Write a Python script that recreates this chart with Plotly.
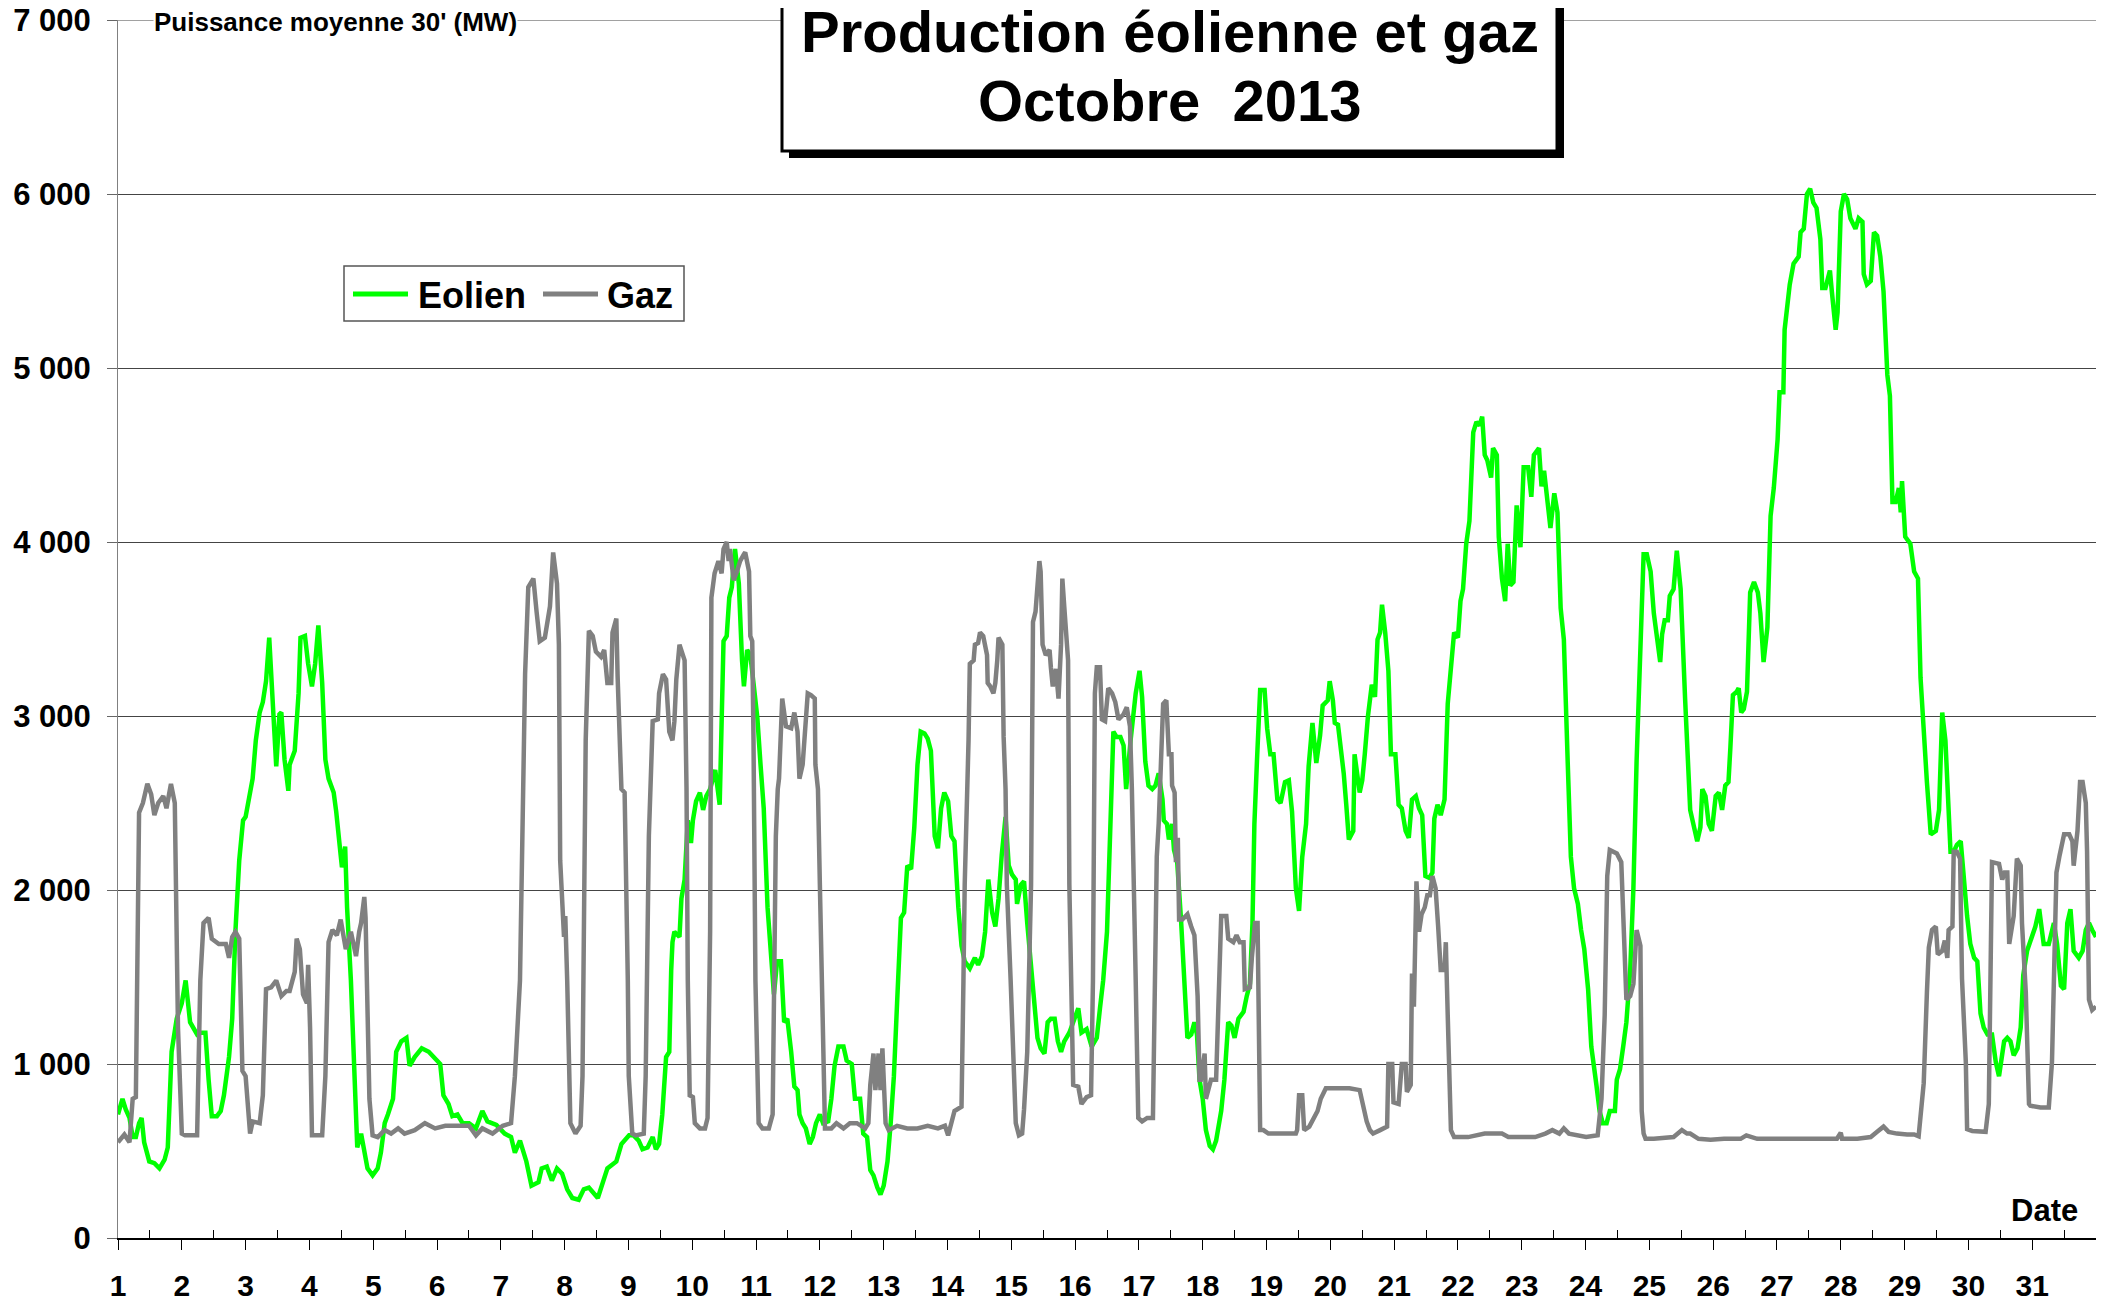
import plotly.graph_objects as go

# Half-hourly averages: fractional day of October 2013 and MW.
EOLIEN_DAY = [
    1.00, 1.07, 1.12, 1.18, 1.23, 1.28, 1.33, 1.37, 1.41, 1.49, 1.57, 1.65, 1.73, 1.78, 1.84, 1.92,
    2.00, 2.06, 2.13, 2.18, 2.24, 2.29, 2.37, 2.42, 2.47, 2.55, 2.61, 2.66, 2.74, 2.79, 2.84, 2.90, 2.96,
    3.00, 3.06, 3.11, 3.16, 3.22, 3.27, 3.32, 3.37, 3.43, 3.48, 3.53, 3.56, 3.61, 3.67, 3.69, 3.77, 3.83, 3.86, 3.93, 3.98,
    4.04, 4.09, 4.14, 4.20, 4.25, 4.30, 4.38, 4.42, 4.49, 4.51, 4.56, 4.59, 4.65, 4.70, 4.75, 4.81, 4.86, 4.91, 4.99,
    5.07, 5.12, 5.18, 5.23, 5.31, 5.36, 5.44, 5.52, 5.57, 5.65, 5.76, 5.87, 5.97,
    6.05, 6.10, 6.18, 6.24, 6.32, 6.40, 6.50, 6.61, 6.71, 6.79, 6.93,
    7.06, 7.16, 7.22, 7.30, 7.40, 7.48, 7.59, 7.64, 7.72, 7.80, 7.88, 7.96,
    8.04, 8.12, 8.22, 8.30, 8.38, 8.52, 8.67, 8.81, 8.89, 8.97,
    9.01, 9.08, 9.16, 9.22, 9.30, 9.38, 9.43, 9.48, 9.53, 9.59, 9.64, 9.67, 9.69, 9.72, 9.80, 9.83, 9.88, 9.93, 9.98,
    10.01, 10.06, 10.12, 10.17, 10.22, 10.28, 10.36, 10.43, 10.49, 10.54, 10.58, 10.62, 10.67, 10.73, 10.78, 10.81,
    10.86, 10.91, 10.96,
    11.02, 11.07, 11.12, 11.18, 11.23, 11.28, 11.33, 11.39, 11.44, 11.49, 11.55, 11.60, 11.65, 11.68, 11.73, 11.78,
    11.84, 11.89, 11.94,
    12.00, 12.05, 12.13, 12.18, 12.23, 12.29, 12.37, 12.42, 12.50, 12.55, 12.63, 12.68, 12.74, 12.79, 12.84, 12.90, 12.95,
    13.00, 13.06, 13.11, 13.16, 13.21, 13.27, 13.32, 13.37, 13.43, 13.48, 13.53, 13.58, 13.64, 13.69, 13.74, 13.80,
    13.85, 13.90, 13.95,
    14.01, 14.06, 14.11, 14.17, 14.22, 14.27, 14.35, 14.43, 14.48, 14.54, 14.59, 14.64, 14.70, 14.75, 14.80, 14.85,
    14.91, 14.96,
    15.01, 15.07, 15.09, 15.15, 15.20, 15.25, 15.30, 15.36, 15.41, 15.46, 15.52, 15.57, 15.62, 15.68, 15.73, 15.78,
    15.83, 15.91, 15.99,
    16.05, 16.10, 16.18, 16.26, 16.34, 16.39, 16.44, 16.50, 16.55, 16.60, 16.65, 16.71, 16.76, 16.80, 16.87, 16.95,
    17.01, 17.05, 17.10, 17.15, 17.21, 17.26, 17.31, 17.37, 17.39, 17.44, 17.47, 17.52, 17.55, 17.60, 17.66, 17.71,
    17.76, 17.82, 17.87, 17.91, 17.95,
    18.00, 18.05, 18.11, 18.16, 18.21, 18.29, 18.34, 18.40, 18.45, 18.50, 18.56, 18.64, 18.69, 18.74, 18.78, 18.81,
    18.85, 18.90, 18.97,
    19.01, 19.06, 19.11, 19.17, 19.22, 19.29, 19.35, 19.40, 19.46, 19.51, 19.56, 19.62, 19.66, 19.72, 19.78, 19.84,
    19.88, 19.96, 19.99,
    20.04, 20.07, 20.12, 20.17, 20.21, 20.25, 20.29, 20.36, 20.38, 20.46, 20.50, 20.54, 20.59, 20.65, 20.70, 20.74,
    20.78, 20.81, 20.86, 20.91, 20.95,
    21.02, 21.07, 21.12, 21.18, 21.23, 21.28, 21.34, 21.39, 21.44, 21.49, 21.55, 21.60, 21.63, 21.68, 21.73, 21.79,
    21.84, 21.89, 21.94,
    22.00, 22.04, 22.08, 22.13, 22.18, 22.24, 22.29, 22.34, 22.38, 22.42, 22.46, 22.52, 22.55, 22.61, 22.64, 22.69,
    22.74, 22.78, 22.82, 22.87, 22.92, 22.98,
    23.03, 23.10, 23.15, 23.19, 23.27, 23.31, 23.35, 23.40, 23.45, 23.51, 23.56, 23.61, 23.66, 23.72, 23.77, 23.82,
    23.88, 23.93, 23.98,
    24.04, 24.09, 24.17, 24.22, 24.27, 24.33, 24.38, 24.46, 24.49, 24.54, 24.59, 24.64, 24.70, 24.75, 24.80, 24.86,
    24.91, 24.96,
    25.02, 25.07, 25.12, 25.17, 25.20, 25.24, 25.29, 25.32, 25.38, 25.43, 25.49, 25.51, 25.56, 25.64, 25.70, 25.75,
    25.80, 25.83, 25.88, 25.93, 25.98,
    26.04, 26.09, 26.14, 26.19, 26.24, 26.27, 26.31, 26.37, 26.40, 26.44, 26.48, 26.53, 26.56, 26.58, 26.64, 26.70,
    26.74, 26.79, 26.85, 26.87, 26.90, 26.95, 26.98,
    27.01, 27.04, 27.10, 27.12, 27.16, 27.20, 27.26, 27.34, 27.37, 27.42, 27.47, 27.52, 27.57, 27.62, 27.68, 27.71,
    27.76, 27.83, 27.86, 27.92, 27.95,
    28.00, 28.05, 28.10, 28.15, 28.23, 28.28, 28.34, 28.36, 28.41, 28.47, 28.52, 28.57, 28.62, 28.67, 28.73, 28.77,
    28.81, 28.86, 28.91, 28.94, 28.96,
    29.01, 29.09, 29.15, 29.21, 29.25, 29.30, 29.35, 29.41, 29.49, 29.54, 29.59, 29.64, 29.69, 29.72, 29.77, 29.82,
    29.88, 29.93, 29.98,
    30.03, 30.09, 30.14, 30.19, 30.24, 30.30, 30.37, 30.43, 30.48, 30.56, 30.61, 30.66, 30.71, 30.77, 30.82, 30.86,
    30.92,
    31.00, 31.05, 31.11, 31.18, 31.26, 31.34, 31.39, 31.45, 31.50, 31.55, 31.60, 31.65, 31.73, 31.79, 31.84, 31.89,
    31.94, 32.00,
]
EOLIEN_MW = [
    710, 800, 740, 690, 580, 580, 660, 690, 550, 440, 430, 400, 450, 520, 1070, 1260,
    1350, 1480, 1240, 1210, 1170, 1180, 1180, 910, 700, 700, 730, 820, 1040, 1260, 1760, 2170, 2400,
    2420, 2530, 2640, 2860, 3020, 3080, 3200, 3450, 3050, 2710, 3010, 3020, 2750, 2570, 2720, 2800, 3130, 3450, 3460, 3300,
    3170, 3300, 3520, 3190, 2750, 2640, 2560, 2450, 2200, 2130, 2250, 1900, 1480, 930, 520, 600, 480, 400, 360,
    400, 490, 660, 710, 800, 1070, 1130, 1150, 990, 1040, 1090, 1070, 1030,
    1000, 820, 770, 700, 710, 660, 660, 630, 730, 670, 650,
    600, 580, 490, 560, 440, 300, 320, 400, 410, 330, 400, 370,
    280, 230, 220, 280, 290, 230, 400, 440, 540, 580,
    590, 590, 560, 510, 520, 580, 510, 540, 710, 1040, 1070, 1540, 1700, 1760, 1730, 1950, 2060, 2400, 2270,
    2400, 2510, 2560, 2460, 2540, 2580, 2690, 2490, 3430, 3460, 3680, 3740, 3960, 3760, 3320, 3170,
    3380, 3350, 3190,
    2990, 2720, 2470, 1900, 1650, 1400, 1590, 1590, 1240, 1260, 1070, 870, 850, 710, 660, 630,
    540, 580, 660,
    710, 660, 670, 800, 990, 1100, 1100, 1020, 1000, 800, 800, 600, 580, 390, 360, 290, 250,
    300, 440, 660, 930, 1350, 1840, 1870, 2140, 2120, 2360, 2720, 2910, 2900, 2870, 2800, 2310,
    2240, 2470, 2560,
    2510, 2310, 2280, 1900, 1680, 1590, 1550, 1610, 1570, 1620, 1760, 2060, 1870, 1790, 1950, 2200,
    2420, 2140,
    2090, 2060, 1920, 2030, 2050, 1810, 1590, 1350, 1150, 1090, 1060, 1240, 1260, 1260, 1130, 1070,
    1130, 1180, 1260,
    1320, 1180, 1200, 1100, 1150, 1320, 1480, 1760, 2310, 2910, 2880, 2880, 2830, 2580, 2860, 3130,
    3260, 3110, 2740, 2600, 2580, 2600, 2670, 2520, 2400, 2380, 2290, 2380, 2230, 2160, 1830, 1460,
    1150, 1170, 1240, 1170, 910,
    800, 620, 530, 510, 560, 730, 910, 1240, 1220, 1150, 1260, 1300, 1390, 1460, 1810, 2380,
    2740, 3150, 3150,
    2930, 2780, 2780, 2520, 2500, 2620, 2630, 2450, 2010, 1880, 2190, 2380, 2710, 2960, 2730, 2890,
    3060, 3090, 3200,
    3090, 2960, 2950, 2820, 2670, 2490, 2290, 2340, 2780, 2560, 2630, 2780, 3000, 3180, 3110, 3440,
    3480, 3640, 3480, 3260, 2780,
    2780, 2490, 2470, 2340, 2300, 2520, 2540, 2470, 2430, 2080, 2070, 2100, 2410, 2490, 2430, 2520,
    3070, 3260, 3480,
    3450, 3660, 3730, 3990, 4120, 4630, 4690, 4670, 4720, 4500, 4470, 4370, 4540, 4500, 4030, 3790,
    3660, 3990, 3750, 3770, 4210, 3970,
    4430, 4430, 4260, 4500, 4540, 4320, 4410, 4210, 4080, 4280, 4170, 3620, 3440, 2740, 2190, 2010,
    1920, 1770, 1660,
    1430, 1100, 880, 730, 660, 660, 730, 730, 910, 970, 1100, 1240, 1540, 2010, 2740, 3480,
    3930, 3930,
    3830, 3590, 3470, 3310, 3470, 3550, 3550, 3690, 3730, 3950, 3730, 3510, 3100, 2460, 2360, 2280,
    2360, 2580, 2540, 2380, 2340,
    2540, 2560, 2460, 2600, 2620, 2820, 3120, 3140, 3160, 3020, 3040, 3140, 3590, 3710, 3770, 3710,
    3590, 3310, 3510, 3870, 4150, 4310, 4470,
    4590, 4860, 4860, 5220, 5380, 5480, 5600, 5640, 5780, 5800, 6000, 6030, 5950, 5920, 5740, 5460,
    5460, 5560, 5440, 5220, 5320,
    5900, 6000, 5970, 5860, 5800, 5860, 5840, 5540, 5480, 5500, 5780, 5760, 5640, 5440, 4960, 4840,
    4230, 4230, 4310, 4170, 4350,
    4030, 3990, 3830, 3790, 3220, 2900, 2620, 2320, 2340, 2460, 3020, 2860, 2420, 2220, 2220, 2260,
    2280, 2020, 1850,
    1690, 1610, 1590, 1290, 1210, 1170, 1170, 1010, 930, 1130, 1150, 1130, 1050, 1090, 1210, 1510,
    1650,
    1750, 1790, 1890, 1690, 1690, 1810, 1690, 1450, 1430, 1810, 1890, 1650, 1610, 1650, 1770, 1810,
    1770, 1730,
]

GAZ_DAY = [
    1.00, 1.10, 1.18, 1.23, 1.28, 1.33, 1.39, 1.46, 1.52, 1.57, 1.63, 1.71, 1.76, 1.83, 1.89, 1.94,
    2.00, 2.05, 2.24, 2.29, 2.34, 2.42, 2.47, 2.58, 2.69, 2.74, 2.79, 2.84, 2.90, 2.95,
    3.00, 3.07, 3.11, 3.22, 3.27, 3.32, 3.40, 3.48, 3.56, 3.64, 3.69, 3.77, 3.80, 3.85, 3.90, 3.96, 3.98,
    4.01, 4.04, 4.20, 4.25, 4.30, 4.36, 4.43, 4.49, 4.57, 4.65, 4.73, 4.78, 4.81, 4.86, 4.88, 4.94, 4.99,
    5.07, 5.18, 5.28, 5.39, 5.49, 5.65, 5.81, 5.97,
    6.13, 6.29, 6.50, 6.61, 6.71, 6.87,
    7.03, 7.16, 7.22, 7.30, 7.35, 7.38, 7.43, 7.51, 7.56, 7.61, 7.69, 7.77, 7.82, 7.88, 7.91, 7.93, 7.99,
    8.01, 8.04, 8.09, 8.17, 8.25, 8.28, 8.30, 8.33, 8.38, 8.44, 8.49, 8.57, 8.62, 8.67, 8.73, 8.75, 8.81,
    8.83, 8.89, 8.94, 8.99,
    9.005, 9.06, 9.11, 9.24, 9.27, 9.32, 9.38, 9.46, 9.48, 9.54, 9.59, 9.64, 9.69, 9.72, 9.75, 9.80, 9.85,
    9.88, 9.91, 9.93, 9.96,
    10.01, 10.04, 10.12, 10.20, 10.24, 10.28, 10.30, 10.35, 10.41, 10.46, 10.49, 10.54, 10.57, 10.59, 10.65,
    10.70, 10.75, 10.81, 10.83, 10.89, 10.91, 10.94, 10.96, 10.99,
    11.02, 11.04, 11.10, 11.20, 11.26, 11.31, 11.34, 11.36, 11.41, 11.47, 11.55, 11.60, 11.65, 11.68, 11.73,
    11.76, 11.81, 11.86, 11.92, 11.93, 11.97,
    12.00, 12.05, 12.08, 12.18, 12.26, 12.37, 12.47, 12.58, 12.66, 12.71, 12.76, 12.79, 12.84, 12.87, 12.92,
    12.95, 12.98,
    13.00, 13.03, 13.08, 13.21, 13.37, 13.53, 13.69, 13.85, 13.96,
    14.01, 14.11, 14.22, 14.25, 14.27, 14.33, 14.35, 14.41, 14.43, 14.48, 14.51, 14.56, 14.62, 14.63, 14.67,
    14.72, 14.75, 14.78, 14.80, 14.86, 14.88, 14.91, 14.93, 14.99,
    15.04, 15.07, 15.12, 15.17, 15.20, 15.25, 15.31, 15.34, 15.38, 15.44, 15.46, 15.49, 15.54, 15.60, 15.62,
    15.65, 15.70, 15.74, 15.78, 15.80, 15.83, 15.89, 15.91, 15.97,
    16.05, 16.10, 16.18, 16.25, 16.28, 16.31, 16.34, 16.39, 16.42, 16.47, 16.52, 16.58, 16.63, 16.68, 16.76,
    16.81, 16.86, 16.89, 16.95,
    16.99, 17.05, 17.13, 17.22, 17.24, 17.28, 17.31, 17.35, 17.38, 17.43, 17.47, 17.51, 17.52, 17.56, 17.58,
    17.61, 17.63, 17.68, 17.76, 17.82, 17.87, 17.92, 17.95, 17.97,
    18.03, 18.05, 18.13, 18.21, 18.24, 18.29, 18.37, 18.40, 18.48, 18.53, 18.58, 18.64, 18.66, 18.74, 18.77,
    18.82, 18.86, 18.88, 18.90, 18.95,
    19.03, 19.24, 19.46, 19.48, 19.51, 19.56, 19.59, 19.67, 19.75, 19.80, 19.85, 19.93,
    20.04, 20.14, 20.30, 20.46, 20.52, 20.57, 20.62, 20.67, 20.78, 20.89, 20.91, 20.97, 20.99,
    21.07, 21.12, 21.18, 21.20, 21.26, 21.28, 21.31, 21.35, 21.39, 21.43, 21.48, 21.52, 21.56, 21.60, 21.65,
    21.69, 21.73, 21.79, 21.81, 21.84, 21.89, 21.94,
    22.16, 22.42, 22.69, 22.79, 23.21, 23.37, 23.48, 23.59, 23.66, 23.74,
    24.01, 24.19, 24.25, 24.30, 24.34, 24.38, 24.49, 24.56, 24.62, 24.64, 24.70, 24.75, 24.80, 24.86, 24.88,
    24.91, 24.94,
    25.07, 25.38, 25.46, 25.51, 25.59, 25.64, 25.77, 25.96,
    26.17, 26.43, 26.52, 26.69, 26.95,
    27.21, 27.47, 27.73, 27.94,
    28.00, 28.02, 28.26, 28.47, 28.57, 28.67, 28.75, 28.88,
    29.04, 29.15, 29.22, 29.27, 29.30, 29.35, 29.38, 29.43, 29.49, 29.52, 29.59, 29.63, 29.67, 29.69, 29.75,
    29.77, 29.82, 29.87, 29.90, 29.96, 29.98,
    30.06, 30.19, 30.27, 30.32, 30.35, 30.37, 30.48, 30.53, 30.57, 30.61, 30.64, 30.69, 30.71, 30.76, 30.82,
    30.84, 30.90, 30.95, 30.97,
    31.13, 31.26, 31.31, 31.34, 31.38, 31.43, 31.50, 31.58, 31.63, 31.65, 31.71, 31.75, 31.79, 31.84, 31.86,
    31.89, 31.94, 32.00,
]
GAZ_MW = [
    550, 595, 550, 800, 810, 2445, 2500, 2610, 2550, 2430, 2500, 2540, 2470, 2610, 2500, 1210,
    600, 590, 590, 1480, 1810, 1840, 1720, 1690, 1690, 1610, 1730, 1760, 1720, 960,
    930, 600, 670, 660, 820, 1430, 1440, 1480, 1390, 1420, 1420, 1530, 1720, 1660, 1400, 1350, 1570,
    1210, 590, 590, 930, 1700, 1770, 1740, 1830, 1660, 1760, 1620, 1760, 1810, 1960, 1840, 800, 590,
    580, 620, 600, 630, 600, 620, 660, 630,
    645, 645, 645, 590, 630, 600,
    645, 660, 930, 1480, 2580, 3240, 3740, 3790, 3600, 3430, 3450, 3630, 3940, 3760, 3410, 2170, 1730,
    1850, 1480, 660, 600, 645, 930, 1760, 2860, 3490, 3460, 3370, 3340, 3380, 3190, 3190, 3480, 3560,
    3230, 2580, 2560, 1480,
    930, 600, 590, 600, 930, 2310, 2970, 2980, 3130, 3240, 3210, 2910, 2860, 2970, 3210, 3410, 3340,
    3320, 2580, 1480, 820,
    810, 660, 630, 630, 690, 1760, 3680, 3820, 3890, 3820, 3960, 4000, 3890, 3960, 3780,
    3830, 3890, 3930, 3940, 3830, 3460, 3430, 2860, 1480,
    1070, 660, 630, 630, 710, 2310, 2580, 2640, 3100, 2940, 2930, 3020, 2910, 2640, 2720,
    2880, 3130, 3120, 3100, 2720, 2580,
    2030, 1070, 630, 630, 660, 630, 660, 660, 645, 630, 660, 880, 1060, 850, 1060,
    850, 1090,
    850, 660, 620, 645, 630, 630, 645, 630, 645,
    590, 730, 755, 1480, 2030, 2860, 3300, 3320, 3410, 3420, 3480, 3460, 3350, 3190, 3170,
    3130, 3190, 3320, 3450, 3410, 2880, 2580, 2030, 1480,
    930, 660, 590, 600, 740, 1070, 2030, 3540, 3600, 3890, 3830, 3410, 3350, 3380, 3280,
    3170, 3270, 3100, 3410, 3790, 3630, 3320, 2030, 880,
    870, 770, 810, 820, 1480, 3130, 3280, 3280, 2980, 2970, 3160, 3130, 3080, 2980, 3010,
    3050, 2940, 2580, 1480,
    690, 670, 690, 690, 1280, 2190, 2380, 2740, 3070, 3090, 2780, 2780, 2600, 2560, 2160,
    2300, 1830, 1830, 1860, 1790, 1740, 1390, 910, 910,
    1060, 800, 910, 910, 1280, 1850, 1850, 1720, 1700, 1740, 1700, 1700, 1430, 1440, 1610,
    1810, 1810, 910, 620, 620,
    600, 600, 600, 620, 820, 820, 620, 640, 690, 730, 800, 860,
    860, 860, 860, 850, 750, 670, 620, 600, 620, 640, 1000, 1000, 780,
    770, 1000, 1000, 840, 880, 1520, 1330, 2050, 1760, 1860, 1900, 1970, 1970, 2080, 2010,
    1790, 1540, 1540, 1700, 1280, 620, 580,
    580, 600, 600, 580, 580, 600, 620, 600, 630, 600,
    580, 590, 800, 1280, 2080, 2230, 2210, 2160, 1650, 1370, 1390, 1460, 1770, 1680, 730,
    600, 570,
    570, 580, 610, 620, 600, 600, 570, 565,
    570, 570, 590, 570, 570,
    570, 570, 570, 570,
    605, 570, 570, 580, 610, 640, 610, 600,
    595, 595, 585, 770, 890, 1410, 1670, 1770, 1790, 1630, 1650, 1710, 1610, 1770, 1790,
    2220, 2220, 2180, 1490, 1010, 625,
    615, 615, 610, 770, 1410, 2160, 2150, 2060, 2100, 2100, 1690, 1810, 1850, 2180, 2140,
    1810, 1410, 770, 760,
    750, 750, 1010, 1610, 2100, 2200, 2320, 2320, 2280, 2140, 2340, 2620, 2620, 2500, 2220,
    1370, 1310, 1330,
]

DAY_TICKS = [1, 2, 3, 4, 5, 6, 7, 8, 9, 10, 11, 12, 13, 14, 15, 16,
             17, 18, 19, 20, 21, 22, 23, 24, 25, 26, 27, 28, 29, 30, 31]
MW_TICKS = [0, 1000, 2000, 3000, 4000, 5000, 6000, 7000]
MW_LABELS = ["0", "1 000", "2 000", "3 000", "4 000", "5 000", "6 000", "7 000"]

EOLIEN_COLOR = "#00FF00"
GAZ_COLOR = "#808080"
GRID_COLOR = "#444444"
FONT = "Liberation Sans, Arial, sans-serif"

# the page body keeps its default 8px margin, so the figure is made 8px
# smaller and every position below is given in window pixels
BODY = 8
W, H = 2107 - BODY, 1302 - BODY
# plot area in window pixels
PL, PR, PT, PB = 118, 2096, 20, 1238


def px(x):
    return (x - PL) / (PR - PL)


def py(y):
    return (PB - y) / (PB - PT)


def bold(size):
    return dict(family=FONT, size=size, color="black", weight="bold")


fig = go.Figure()

fig.add_trace(go.Scatter(
    x=EOLIEN_DAY, y=EOLIEN_MW, mode="lines", name="Eolien",
    line=dict(color=EOLIEN_COLOR, width=4.5),
))
fig.add_trace(go.Scatter(
    x=GAZ_DAY, y=GAZ_MW, mode="lines", name="Gaz",
    line=dict(color=GAZ_COLOR, width=4.5),
))

# plotly drops the grid line sitting on the top edge, so draw it (with its tick)
fig.add_shape(type="line", xref="paper", yref="y", layer="below",
              x0=px(108), x1=1, y0=MW_TICKS[-1], y1=MW_TICKS[-1],
              line=dict(color=GRID_COLOR, width=1))

# title box with its drop shadow
fig.add_shape(type="rect", xref="paper", yref="paper", layer="above",
              x0=px(789), x1=px(1564), y0=py(158), y1=py(-20),
              fillcolor="black", line=dict(width=0))
fig.add_shape(type="rect", xref="paper", yref="paper", layer="above",
              x0=px(782), x1=px(1557), y0=py(151), y1=py(-20),
              fillcolor="white", line=dict(color="black", width=3))

fig.add_annotation(x=px(1170), y=py(31), xref="paper", yref="paper",
                   text="Production éolienne et gaz", showarrow=False,
                   xanchor="center", yanchor="middle", font=bold(58))
fig.add_annotation(x=px(1170), y=py(100), xref="paper", yref="paper",
                   text="Octobre\u00a0 2013", showarrow=False,
                   xanchor="center", yanchor="middle", font=bold(58))
fig.add_annotation(x=px(153), y=py(22), xref="paper", yref="paper",
                   text="Puissance moyenne 30' (MW)", showarrow=False,
                   xanchor="left", yanchor="middle", bgcolor="white", borderpad=0,
                   font=bold(26))
fig.add_annotation(x=px(2080), y=py(1210), xref="paper", yref="paper",
                   text="Date", showarrow=False,
                   xanchor="right", yanchor="middle", font=bold(31))

# legend box drawn by hand so the line samples get the long Excel look
fig.add_shape(type="rect", xref="paper", yref="paper", layer="above",
              x0=px(344), x1=px(684), y0=py(321), y1=py(266),
              fillcolor="white", line=dict(color="#555555", width=1.5))
fig.add_shape(type="line", xref="paper", yref="paper", layer="above",
              x0=px(353), x1=px(408), y0=py(294), y1=py(294),
              line=dict(color=EOLIEN_COLOR, width=5))
fig.add_shape(type="line", xref="paper", yref="paper", layer="above",
              x0=px(543), x1=px(598), y0=py(294), y1=py(294),
              line=dict(color=GAZ_COLOR, width=5))
fig.add_annotation(x=px(416), y=py(295), xref="paper", yref="paper",
                   text="Eolien", showarrow=False,
                   xanchor="left", yanchor="middle", font=bold(36))
fig.add_annotation(x=px(605), y=py(295), xref="paper", yref="paper",
                   text="Gaz", showarrow=False,
                   xanchor="left", yanchor="middle", font=bold(36))

fig.update_layout(
    width=W, height=H,
    margin=dict(l=PL - BODY, r=W + BODY - PR, t=PT - BODY, b=H + BODY - PB,
                autoexpand=False),
    paper_bgcolor="white",
    plot_bgcolor="white",
    font=dict(family=FONT, color="black"),
    showlegend=False,
    xaxis=dict(
        range=[1, 32], automargin=False,
        tickmode="array", tickvals=DAY_TICKS, ticktext=[str(d) for d in DAY_TICKS],
        ticks="outside", ticklen=10, tickwidth=1, tickcolor="black",
        ticklabelstandoff=10,
        minor=dict(ticks="inside", tickmode="linear", tick0=1.5, dtick=1,
                   ticklen=8, tickwidth=1, tickcolor="black", showgrid=False),
        showline=True, linecolor="black", linewidth=2,
        showgrid=False, zeroline=False,
        tickfont=bold(30),
    ),
    yaxis=dict(
        range=[0, 7000], automargin=False,
        tickmode="array", tickvals=MW_TICKS, ticktext=MW_LABELS,
        ticks="outside", ticklen=10, tickwidth=1, tickcolor="#666666",
        ticklabelstandoff=10, ticklabeloverflow="allow",
        showline=True, linecolor="#808080", linewidth=1,
        showgrid=True, gridcolor=GRID_COLOR, gridwidth=1,
        zeroline=False,
        tickfont=bold(31),
    ),
)

fig.write_html("out.html")
